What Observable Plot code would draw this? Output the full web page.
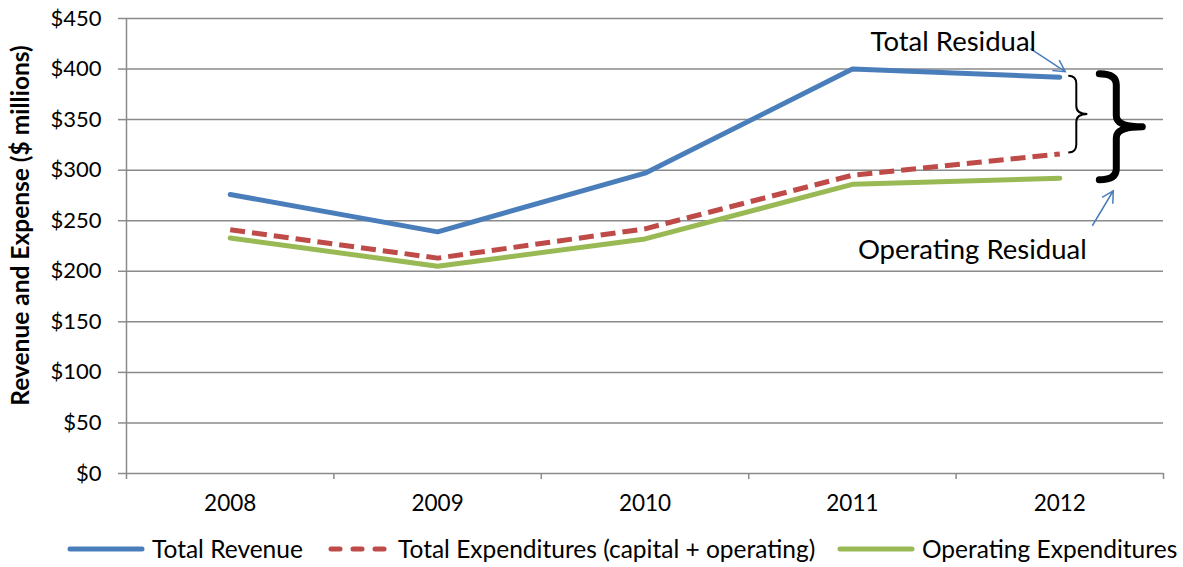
<!DOCTYPE html>
<html>
<head>
<meta charset="utf-8">
<script src="https://cdn.jsdelivr.net/npm/d3@7"></script>
<script src="https://cdn.jsdelivr.net/npm/@observablehq/plot@0.6"></script>
<style>
  html, body { margin: 0; padding: 0; background: #fff; }
  body { width: 1183px; height: 567px; overflow: hidden; font-family: Lato, "Open Sans", sans-serif; }
  #legend { position: relative; height: 37px; font-size: 24.5px; color: #000; white-space: nowrap; }
  #legend .item { position: absolute; top: 0; height: 37px; display: flex; align-items: center; }
  #legend svg { margin-right: 6px; }
</style>
</head>
<body>
<div id="chart"></div>
<div id="legend"></div>
<script>
const years = [2008, 2009, 2010, 2011, 2012];
const totalRevenue = [276, 239, 297, 400, 392];
const totalExpenditures = [241, 213, 242, 295, 316];
const operatingExpenditures = [233, 205, 232, 286, 292];
const seriesNames = ["Total Revenue", "Total Expenditures (capital + operating)", "Operating Expenditures"];
const seriesColors = ["#4a7ebb", "#be4b48", "#98b954"];
const seriesDash = [null, "15,7", null];
const yTicks = [0, 50, 100, 150, 200, 250, 300, 350, 400, 450];
const yTitle = "Revenue and Expense ($ millions)";
const annotationLabels = ["Total Residual", "Operating Residual"];

const seriesValues = [totalRevenue, totalExpenditures, operatingExpenditures];
const rows = seriesValues.map((vals, s) => years.map((yr, i) => ({year: yr, value: vals[i], s})));
const boundaries = [years[0] - 0.5, ...years.map(y => y + 0.5)];
const gray = "#8a8a8a";
const font = "Lato, 'Open Sans', sans-serif";

const chart = Plot.plot({
  width: 1183,
  height: 530,
  marginLeft: 126,
  marginRight: 20,
  marginTop: 18,
  marginBottom: 57,
  style: {fontFamily: font, fontSize: "22px", color: "#000", background: "#fff"},
  x: {type: "linear", domain: [years[0] - 0.5, years[years.length - 1] + 0.5]},
  y: {domain: [0, 450]},
  marks: [
    Plot.gridY(yTicks, {stroke: gray, strokeOpacity: 1, strokeWidth: 1.5}),
    Plot.axisY(yTicks, {tickSize: 8, tickPadding: 17, tickFormat: d => "$" + d, stroke: gray, strokeWidth: 1.5, label: null, fontSize: 22}),
    Plot.ruleX([boundaries[0]], {y1: 0, y2: 450, stroke: gray, strokeWidth: 1.5}),
    Plot.axisX(boundaries, {tickSize: 6, tickFormat: () => "", stroke: gray, strokeWidth: 1.5, label: null}),
    Plot.axisX(years, {tickSize: 0, tickPadding: 22, tickFormat: d => String(d), label: null, fontSize: 22.5}),
    ...rows.map((r, s) => Plot.line(r, {
      x: "year", y: "value", stroke: seriesColors[s], strokeWidth: 5,
      strokeDasharray: seriesDash[s], strokeLinecap: s === 1 ? "butt" : "round", strokeLinejoin: "round"
    }))
  ]
});
document.getElementById("chart").appendChild(chart);

// Annotations anchored to the 2012 values via Plot's scales
const sx = chart.scale("x"), sy = chart.scale("y");
const X = v => sx.apply(v), Y = v => sy.apply(v);
const last = years.length - 1;
const x12 = X(years[last]);
const yRev = Y(totalRevenue[last]), yTot = Y(totalExpenditures[last]), yOp = Y(operatingExpenditures[last]);
const svg = d3.select(chart);
const g = svg.append("g");

// Y axis title
const yMid = (Y(0) + Y(450)) / 2 - 20;
g.append("text").attr("transform", `translate(29,${yMid}) rotate(-90)`)
  .attr("text-anchor", "middle").attr("font-weight", "bold").attr("font-size", 24.5)
  .attr("font-family", font).text(yTitle);

function brace(x, y1, y2, qx, w, r) {
  const ym = (y1 + y2) / 2, xv = x + qx;
  return `M${x},${y1} Q${xv},${y1} ${xv},${y1 + r} L${xv},${ym - r} Q${xv},${ym} ${x + w},${ym}` +
         `M${x + w},${ym} Q${xv},${ym} ${xv},${ym + r} L${xv},${y2 - r} Q${xv},${y2} ${x},${y2}`;
}
g.append("path").attr("d", brace(x12 + 9, yRev - 1, yTot - 1, 8, 19, 8))
  .attr("fill", "none").attr("stroke", "#000").attr("stroke-width", 2);
g.append("path").attr("d", brace(x12 + 40, yRev - 3, yOp + 2, 17, 43, 11))
  .attr("fill", "none").attr("stroke", "#000").attr("stroke-width", 7).attr("stroke-linecap", "round").attr("stroke-linejoin", "round");

function arrow(x1, y1, x2, y2) {
  const a = Math.atan2(y2 - y1, x2 - x1), L = 13, sp = 0.5;
  const h1 = [x2 - L * Math.cos(a - sp), y2 - L * Math.sin(a - sp)];
  const h2 = [x2 - L * Math.cos(a + sp), y2 - L * Math.sin(a + sp)];
  g.append("path").attr("d", `M${x1},${y1}L${x2},${y2}M${h1[0]},${h1[1]}L${x2},${y2}L${h2[0]},${h2[1]}`)
    .attr("fill", "none").attr("stroke", "#4a7ebb").attr("stroke-width", 1.5);
}
arrow(x12 - 29, yRev - 28, x12 + 6, yRev - 5);
arrow(x12 + 33, yOp + 48, x12 + 54, yOp + 13);

g.append("text").attr("x", x12 - 106).attr("y", yRev - 26).attr("text-anchor", "middle")
  .attr("font-size", 27.5).attr("font-family", font).text(annotationLabels[0]);
g.append("text").attr("x", x12 - 87).attr("y", yOp + 81).attr("text-anchor", "middle")
  .attr("font-size", 27.5).attr("font-family", font).text(annotationLabels[1]);

// Legend
const legend = document.getElementById("legend");
const legendLeft = [66, 326, 836];
seriesNames.forEach((name, s) => {
  const item = document.createElement("div");
  item.className = "item";
  item.style.left = legendLeft[s] + "px";
  const w = s === 1 ? 66 : 80;
  const line = s === 1
    ? `<line x1="5" x2="58" y1="5" y2="5" stroke="${seriesColors[s]}" stroke-width="5" stroke-linecap="round" stroke-dasharray="9,13"/>`
    : `<line x1="4" x2="76" y1="5" y2="5" stroke="${seriesColors[s]}" stroke-width="5" stroke-linecap="round"/>`;
  item.innerHTML = `<svg width="${w}" height="10">${line}</svg><span>${name}</span>`;
  legend.appendChild(item);
});
</script>
</body>
</html>
